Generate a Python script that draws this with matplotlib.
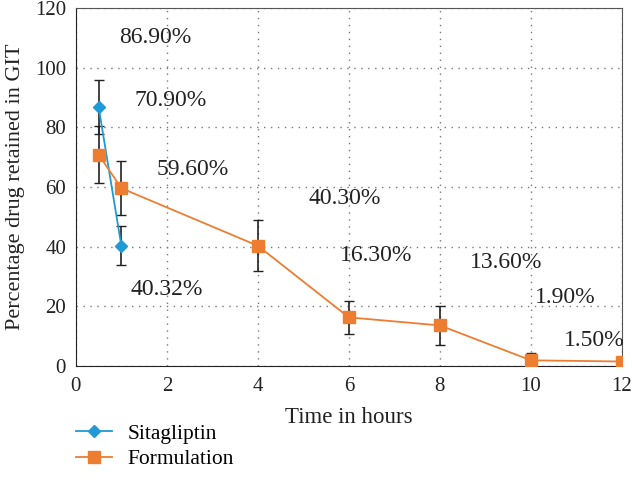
import matplotlib.pyplot as plt
from matplotlib.lines import Line2D

# data
sita_t = [0.5, 1]
sita_y = [86.9, 40.32]
sita_err = [9.0, 6.5]

form_t = [0.5, 1, 4, 6, 8, 10, 12]
form_y = [70.9, 59.6, 40.3, 16.3, 13.6, 1.9, 1.5]
form_err = [9.7, 9.0, 8.5, 5.5, 6.5, 2.5, 0.5]

labels = ["86.90%", "70.90%", "59.60%", "40.30%", "16.30%", "13.60%", "1.90%", "1.50%", "40.32%"]
label_x = [1.74, 2.09, 2.57, 5.9, 6.6, 9.45, 10.75, 11.4, 2.0]
label_y = [110, 89, 66, 56, 37, 34.6, 23, 8.7, 25.5]

plt.rcParams['font.family'] = ['Liberation Serif', 'DejaVu Serif']

fig = plt.figure(figsize=(6.32, 4.91), dpi=100)
ax = fig.add_axes([0.120, 0.2546, 0.864, 0.729])

blue = '#1F9AD6'
orange = '#ED7D31'
dark = '#222222'

ax.errorbar(sita_t, sita_y, yerr=sita_err, color=blue, marker='D', markersize=6.5,
            linewidth=1.3, ecolor=dark, elinewidth=1.2, capsize=3.5, zorder=3)
ax.errorbar(form_t, form_y, yerr=form_err, color=orange, marker='s', markersize=8.5,
            linewidth=1.3, ecolor=dark, elinewidth=1.2, capsize=3.5, zorder=3)

for s, x, y in zip(labels, label_x, label_y):
    ax.text(x, y, s, ha='center', va='center', fontsize=17, color=dark)

ax.set_xlim(0, 12)
ax.set_ylim(0, 120)
ax.set_xticks(range(0, 13, 2))
ax.set_yticks(range(0, 121, 20))
ax.grid(True, linestyle=(0, (1, 4)), color='#777777', linewidth=1)
ax.tick_params(labelsize=15, length=0, colors=dark)
ax.tick_params(axis='x', pad=8)
ax.tick_params(axis='y', pad=7)
for sp in ax.spines.values():
    sp.set_color('#555555')
ax.spines['left'].set_color(dark)
ax.spines['bottom'].set_color(dark)

ax.set_xlabel('Time in hours', fontsize=16.5, color=dark, labelpad=8)
ax.set_ylabel('Percentage drug retained in GIT', fontsize=16, color=dark, labelpad=7)

handles = [Line2D([], [], color=blue, marker='D', markersize=6.5, linewidth=1.3),
           Line2D([], [], color=orange, marker='s', markersize=8.5, linewidth=1.3)]
fig.legend(handles, ['Sitagliptin', 'Formulation'], loc='upper left',
           bbox_to_anchor=(0.089, 0.176), frameon=False,
           fontsize=15.5, handlelength=1.7, handletextpad=0.7, labelspacing=0.25)

fig.savefig('out.png', dpi=100)
